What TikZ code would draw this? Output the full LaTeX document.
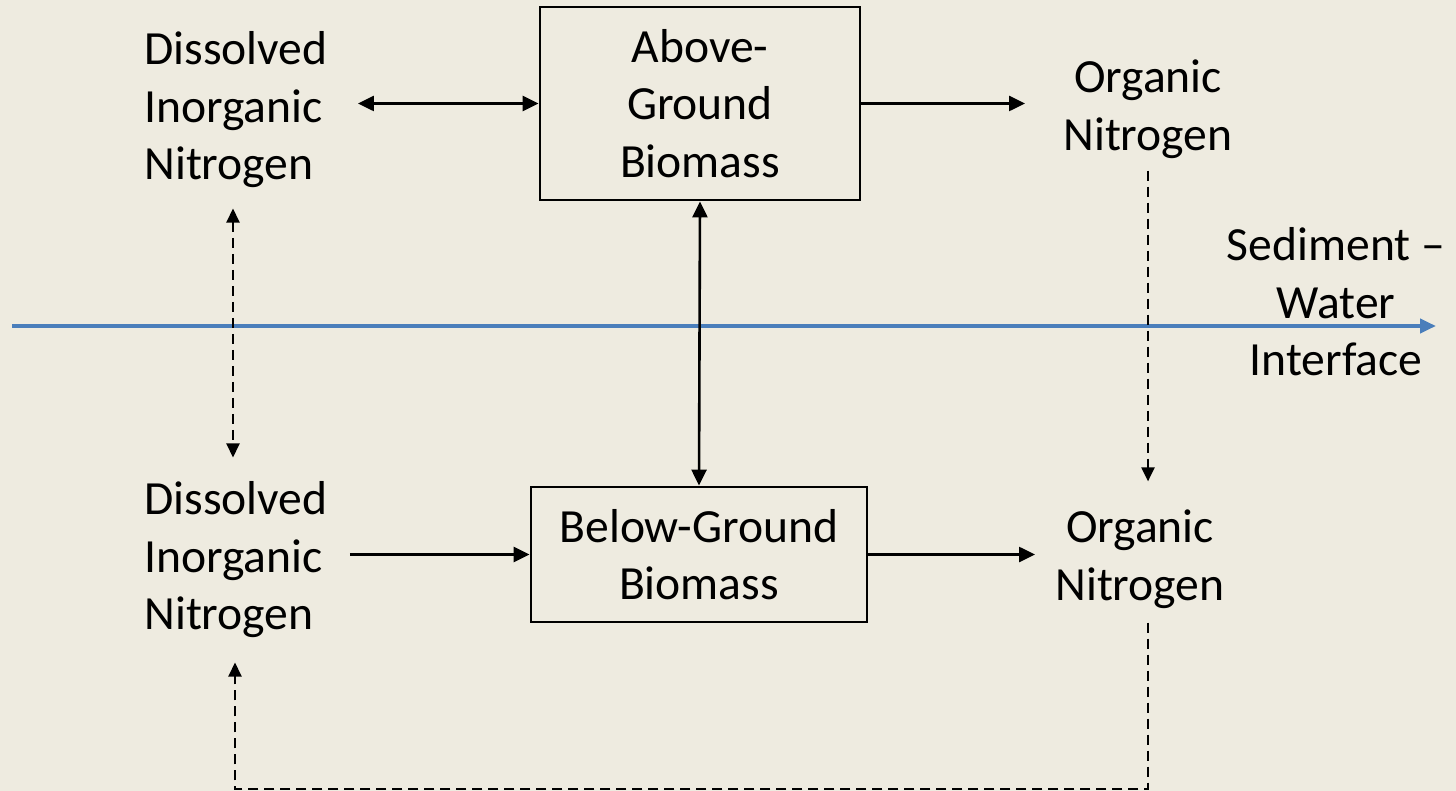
\documentclass[tikz,border=0pt]{standalone}
\usepackage{fontspec}
\setmainfont{Carlito}
\usetikzlibrary{arrows.meta}
\definecolor{bg}{HTML}{EEEBE0}
\definecolor{iface}{HTML}{4A7EBB}
\tikzset{
  txt/.style={font=\fontsize{23.8}{28.75}\selectfont, align=center, inner sep=0pt},
  bx/.style={txt, draw, line width=1.4pt},
  flow/.style={line width=1.3pt, -{Triangle[length=8pt,width=7.5pt]}},
  both/.style={flow, {Triangle[length=8pt,width=7.5pt]}-{Triangle[length=8pt,width=7.5pt]}},
  dflow/.style={line width=1.1pt, dash pattern=on 5pt off 3pt, -{Triangle[length=7pt,width=6.5pt]}},
  dboth/.style={dflow, {Triangle[length=7pt,width=6.5pt]}-{Triangle[length=7pt,width=6.5pt]}}
}
\begin{document}
\begin{tikzpicture}[x=0.5pt,y=-0.5pt]
\fill[bg] (0,0) rectangle (1456,791);
% boxes
\node[bx, minimum width=160pt, minimum height=96.5pt] (abg) at (700,103.5) {Above-\\Ground\\Biomass};
\node[bx, minimum width=168pt, minimum height=67.5pt] (bgb) at (699,554.5) {Below-Ground\\Biomass};
% labels
\node[txt, align=left, anchor=west] (din1) at (144,110) {Dissolved\\Inorganic\\Nitrogen};
\node[txt, align=left, anchor=west] (din2) at (144,560) {Dissolved\\Inorganic\\Nitrogen};
\node[txt] (on1) at (1148,109) {Organic\\Nitrogen};
\node[txt] (on2) at (1140,559) {Organic\\Nitrogen};
\node[txt] (swi) at (1336,302) {Sediment --\\Water\\Interface};
% interface line
\coordinate (ifL) at (12,326);
\coordinate (ifR) at (1436,326);
\draw[iface, line width=2pt, -{Triangle[length=8pt,width=7pt]}] (ifL) -- (ifR);
% solid fluxes
\draw[both, shorten >=15pt] (abg.west) -- (abg.west -| din1.east);
\draw[flow, shorten >=19pt] (abg.east) -- (abg.east -| on1.west);
\draw[both] (abg.south) -- (bgb.north);
\draw[flow, shorten <=11pt] (bgb.west -| din2.east) -- (bgb.west);
\draw[flow, shorten >=10pt] (bgb.east) -- (bgb.east -| on2.west);
% dashed fluxes
\draw[dboth, shorten <=10pt, shorten >=12pt] ([xshift=-1.5pt]din1.south) -- ([xshift=-1.5pt]din2.north);
\draw[dflow, shorten <=6pt, shorten >=14pt] (on1.south) -- (on1.south |- on2.north);
\coordinate (loopR) at (1148,789);
\coordinate (loopL) at (235,789);
\draw[dflow, shorten >=12pt] ([yshift=-7pt]on1.south |- on2.south) -- (loopR) -- (loopL) -- (loopL |- din2.south);
\end{tikzpicture}
\end{document}
